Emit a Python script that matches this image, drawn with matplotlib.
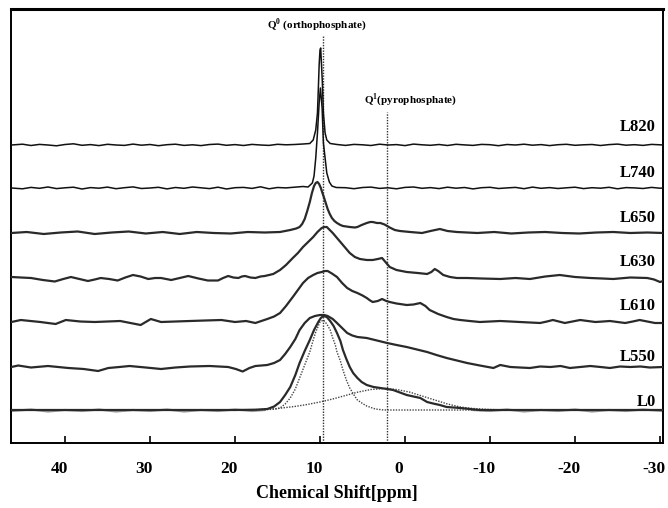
import matplotlib
matplotlib.use("Agg")
import matplotlib.pyplot as plt
import matplotlib.transforms as mtransforms
import numpy as np

plt.rcParams["font.family"] = ["Liberation Serif", "DejaVu Serif"]
plt.rcParams["font.weight"] = "bold"
plt.rcParams["axes.unicode_minus"] = False
plt.rcParams["mathtext.fontset"] = "custom"
plt.rcParams["mathtext.rm"] = "Liberation Serif:bold"
plt.rcParams["mathtext.bf"] = "Liberation Serif:bold"

# 31P MAS NMR spectra, chemical shift (ppm) vs. intensity above each baseline
ppm_820 = [46.3, 45, 44, 43, 42, 41, 40, 39, 38, 37, 36, 35, 34, 33, 32, 31, 30, 29, 28, 27,
           26, 25, 24, 23, 22, 21, 20, 19, 18, 17, 16, 15, 14, 13, 12,
           11.2, 10.8, 10.5, 10.3, 10.2, 10.1, 10.0, 9.92, 9.82, 9.72, 9.6, 9.4, 9.2, 8.8,
           8, 7, 6, 5, 4, 3, 2, 1, 0, -1, -2, -3, -4, -5, -6, -7, -8, -9, -10, -11, -12,
           -13, -14, -15, -16, -17, -18, -19, -20, -21, -22, -23, -24, -25, -26, -27, -28,
           -29, -30, -30.35]
int_820 = [0, 0.8, -0.5, 0.6, 0, -0.8, 0.5, 1.2, -0.3, 0.4, -0.6, 0.7, 0, -0.4, 0.9, -0.2,
           0.5, -0.7, 0.3, 0.8, -0.4, 0.2, -0.6, 0.5, 0.9, -0.3, 0.4, -0.5, 0.6, 0, -0.4,
           0.7, 0.2, 0.5, 1.0,
           1.5, 5, 15, 32, 55, 80, 95, 97, 80, 62, 32, 12, 5, 1.5,
           0.5, -0.4, 0.6, 0.2, -0.5, 0.8, 0, 0.4, -0.6, 0.9, 0.2, -0.3, 0.5, -0.5, 0.7,
           0.1, -0.4, 0.6, 0.3, -0.7, 0.5, 0, 0.8, -0.2, 0.4, -0.6, 0.3, 0.7, -0.3, 0.2,
           0.5, -0.5, 0.4, 0.9, -0.2, 0.3, -0.4, 0.6, 0.2, 0]

ppm_740 = [46.3, 45, 44, 43, 42, 41, 40, 39, 38, 37, 36, 35, 34, 33, 32, 31, 30, 29, 28, 27,
           26, 25, 24, 23, 22, 21, 20, 19, 18, 17, 16, 15, 14, 13, 12,
           11.4, 10.9, 10.7, 10.5, 10.3, 10.1, 9.95, 9.75, 9.6, 9.4, 9.2, 8.9, 8.6, 8.1,
           7, 6, 5, 4, 3, 2, 1, 0, -1, -2, -3, -4, -5, -6, -7, -8, -9, -10, -11, -12,
           -13, -14, -15, -16, -17, -18, -19, -20, -21, -22, -23, -24, -25, -26, -27, -28,
           -29, -30, -30.35]
int_740 = [0, -0.8, 0.6, -0.3, 1.0, -0.6, 0.2, 0.8, -1.0, 0.4, -0.2, 0.9, -0.7, 0.3, 1.1,
           -0.5, 0, 0.7, -0.9, 0.5, -0.3, 1.0, 0.2, -0.6, 0.8, -1.0, 0.3, 0.6, -0.4, 1.2,
           -0.8, 0.5, 0.1, 0.8, 1.5,
           1, 5, 12, 30, 55, 85, 100, 80, 45, 30, 15, 6, 2, 0.5,
           0.3, -0.7, 0.5, 0.9, -0.4, 0.2, -0.8, 0.6, 1.0, -0.3, 0.4, -0.6, 0.8, -0.2, 0.5,
           -0.9, 0.3, 0.7, -0.5, 0.1, 0.6, -0.7, 0.9, -0.3, 0.4, -0.5, 0.2, 0.8, -0.6, 0.3,
           -0.2, 0.7, -0.8, 0.4, 0.1, -0.5, 0.6, -0.2, 0]

ppm_650 = [46.3, 44.5, 42.5, 40.5, 38.5, 36.5, 34.5, 32.5, 30.5, 28.5, 26.5, 24.5, 22.5,
           20.5, 18.5, 16.5,
           14.7, 13.5, 12.8, 12.4, 12.1, 11.8, 11.5, 11.2, 10.95, 10.7,
           10.5, 10.3, 10.1, 9.9, 9.75, 9.55, 9.4, 9.1, 8.85, 8.6,
           8.3, 8.0, 7.6, 7.3, 6.5, 5.9, 5.6, 5.1, 4.5, 4.1,
           3.8, 3.3, 2.9, 2.4, 2.1, 1.8, 1.2, 0.6, -0.6, -2.0,
           -3.0, -4.1, -5.0, -6.1, -8.5, -10.5, -12.5, -14.5, -16.5, -18.5,
           -20.5, -22.5, -24.5, -26.5, -28.5, -30.35]
int_650 = [0, 1, -1, 0.5, 1.5, -1, 0.5, 1.5, -0.5, 1, -1, 1, 0, -0.5, 1, 0.5,
           1, 3, 4.5, 6, 9, 14, 22, 31, 40, 47,
           50, 51, 49, 45, 41, 36, 32, 24, 19, 15,
           12, 10, 8, 7, 6, 5.5, 6, 8, 10, 11,
           11, 10, 10, 8.5, 7, 5.5, 3, 2, 1, 0,
           2, 4, 2, 1, 0, 1, -0.5, 0.5, 1, 0,
           -0.5, 0.5, 1, 0, 0.5, 0]

ppm_630 = [46.3, 45.2, 44.0, 42.6, 41.2, 40.2, 39.3, 38.3, 37.3, 36.5,
           35.8, 34.8, 33.8, 32.9, 32.0, 31.1, 30.2, 29.4, 28.7, 28.1,
           27.5, 26.5, 25.5, 24.3, 23.2, 22.0, 21.4, 20.8, 20.2, 19.6,
           19.2, 18.8, 18.2, 17.6, 17.0, 16.5, 15.5, 14.7, 14.0, 13.2,
           12.6, 12.0, 11.4, 10.8, 10.3, 9.8, 9.5, 9.2, 8.85, 8.5,
           8.0, 7.6, 7.0, 6.5, 5.9, 5.3, 4.5, 3.8, 3.2, 2.7,
           2.3, 1.8, 1.0, -0.2, -1.5, -2.6, -3.1, -3.5, -3.9, -4.5,
           -5.3, -6.1, -7.3, -9.0, -11.2, -13.0, -14.7, -16.5, -18.2, -20.0,
           -21.8, -23.2, -24.5, -26.5, -28.5, -29.3, -30.0, -30.35]
int_630 = [1, 0.5, 0, -2, -3.5, -1, 1, -1, -3, -1.5,
           0, -1, -2.5, 0.5, 3, 1.5, -1, 0, 0, -1,
           -2, 0, 2, -0.5, -2.5, -2.5, 0, 2, 0.5, 0,
           1.5, 2, 0.5, 0, 1.5, 2, 4, 8, 13, 20,
           25, 31, 36, 41, 46, 50, 51, 51, 48, 45,
           40, 36, 30, 25, 21, 19, 18, 18, 19, 20,
           16, 11, 8, 6, 5, 4, 6, 9, 7, 3,
           1, 0, 0, -0.5, -1, 0, -1, 1.5, 3, 1,
           0, -0.5, -1, 0.5, 0, -1.5, -4, -3]

ppm_610 = [46.3, 45.2, 42.9, 41.1, 39.9, 38.2, 36.5, 35.0, 33.5, 32.3,
           31.1, 29.9, 28.7, 27.0, 25.3, 23.5, 21.6, 20.0, 18.7, 17.6,
           16.9, 16.2, 15.4, 14.7, 14.0, 13.2, 12.6, 12.0, 11.4, 10.8,
           10.3, 9.8, 9.4, 9.1, 8.6, 8.0, 7.4, 6.8, 6.2, 5.6,
           5.0, 4.5, 4.1, 3.8, 3.2, 2.7, 2.2, 1.8, 1.0, -0.2,
           -1.0, -1.8, -2.4, -2.9, -3.9, -4.9, -5.7, -6.5, -7.6, -8.8,
           -10.0, -11.2, -12.4, -13.5, -14.7, -15.9, -16.7, -17.4, -18.1, -18.8,
           -19.7, -20.6, -21.5, -22.4, -23.3, -24.1, -25.0, -25.9, -26.8, -27.6,
           -28.5, -29.4, -30.35]
int_610 = [0, 2, 0, -2, 2, 0.5, 0, 0.5, 1, -1,
           -3, 3, 0, 0.5, 1, 1.5, 2, 0, 1, -1,
           1, 3, 5.5, 9, 16, 25, 32, 39, 44, 47,
           49, 50, 51, 51, 48.5, 45, 39, 34, 31, 29,
           26.5, 24, 21.5, 20, 21, 23, 21, 20, 18.5, 17,
           17.5, 19, 16, 12, 8, 5, 3, 2, 1, 0,
           0.5, 1, 0.5, 0, -0.5, -1, 0.5, 2, 0.5, -1,
           0.5, 2, 1, 0, 0.5, 1, 0, -1, 0.5, 2,
           0.5, -1, -1]

ppm_550 = [46.3, 45.5, 44.0, 42.0, 39.6, 37.8, 36.1, 34.9, 33.6, 32.4,
           30.5, 28.7, 27.0, 25.3, 23.0, 20.8, 19.9, 19.1, 18.3, 17.6,
           16.9, 16.2, 15.4, 14.7, 14.1, 13.5, 12.9, 12.4, 11.8, 11.2,
           10.6, 10.0, 9.5, 9.1, 8.5, 8.0, 7.4, 6.8, 6.2, 5.6,
           4.5, 3.3, 2.1, 1.0, -0.2, -1.4, -2.6, -3.7, -4.9, -6.1,
           -7.3, -8.8, -10.4, -11.2, -12.4, -13.5, -14.7, -15.9, -17.1, -18.3,
           -19.4, -20.6, -21.8, -23.0, -24.1, -25.3, -26.5, -27.7, -28.8, -30.35]
int_550 = [0, 1.5, -0.5, 1, -1, -2, -4, -1, 0, 1,
           -0.5, -2, -0.5, 0.5, 1, 0, -2, -4.5, -1, 1,
           1.5, 2, 4, 7, 13, 20, 28, 37, 44, 49,
           51, 52, 52, 51, 48, 44, 39, 34, 31.5, 30,
           29, 26.5, 24, 22, 20, 17.5, 15, 12, 9, 6.5,
           4, 1.5, -1, 2, 0, -0.5, -1, 0.5, 0, 1,
           -1, 0, 1, 0, -1, 0.5, 0, 0.5, -0.5, 0]

ppm_0 = [46.3, 40, 35, 30, 25, 20, 17.5, 16.2, 15.4, 14.7,
         14.1, 13.5, 12.9, 12.4, 11.8, 11.2, 10.7, 10.2, 9.9, 9.6,
         9.2, 8.8, 8.4, 8.0, 7.6, 7.3, 6.9, 6.5, 6.1, 5.6,
         5.1, 4.5, 3.7, 2.9, 2.1, 1.4, 0.6, -0.2, -1.0, -1.8,
         -2.6, -3.3, -4.1, -4.9, -5.7, -6.5, -7.6, -8.8, -15, -20,
         -25, -30.35]
int_0 = [0, 0, 0, 0, 0, 0, 0.3, 1, 3.5, 8,
         15, 23, 35, 47, 59, 70, 80, 88, 92, 94,
         93, 89, 84, 77, 69, 60, 51, 43, 37, 32,
         28, 25, 23, 22, 21, 20, 17.5, 15, 13.5, 12,
         8, 6.5, 5, 3, 2.5, 2, 1, 0, 0, 0,
         0, 0]

# raw L0 trace showing through under the fit on the flat parts (grey)
ppm_0_raw_left = [46.3, 44, 42, 40, 38, 36, 34, 32, 30, 28, 26, 24, 22, 20, 18, 16.5]
int_0_raw_left = [-1, 0.5, -1.5, 0, -1, 0.5, -1.5, 0, -1, 0.5, -1.5, 0, -1, 0.5, -1, 0]
ppm_0_raw_right = [-8, -10, -12, -14, -16, -18, -20, -22, -24, -26, -28, -30.35]
int_0_raw_right = [0, -1, 0.5, -1.5, 0, -1, 0.5, -1.5, 0, -1, 0.5, -1]

# deconvoluted components of L0 (Q0 and Q1)
ppm_fit_q0 = [46.3, 20, 16, 15.2, 14.7, 14.1, 13.5, 12.9, 12.4, 11.8,
              11.2, 10.8, 10.5, 10.2, 10.0, 9.6, 9.2, 8.8, 8.5, 8.2,
              8.0, 7.6, 7.3, 6.9, 6.5, 6.0, 5.6, 5.0, 4.5, 3.5,
              2.5, -10, -30.35]
int_fit_q0 = [0, 0, 0.5, 1, 2, 6, 12, 21, 32, 45,
              58, 70, 78, 84, 88, 90, 86, 80, 72, 65,
              58, 49, 40, 30, 22, 15, 10, 6.5, 4, 1,
              0, 0, 0]
ppm_fit_q1 = [46.3, 20, 17, 15, 13, 11.5, 10, 8.5, 7, 5.5, 4, 2.4, 1, -0.5, -2, -3.5, -5,
              -6.5, -8, -10, -12, -30.35]
int_fit_q1 = [0, 0, 0.5, 1.5, 3.5, 5.5, 8, 11, 14.5, 18, 20.5, 21.5, 20.5, 18, 14, 10, 6,
              3, 1.5, 0.5, 0, 0]

labels = ["L820", "L740", "L650", "L630", "L610", "L550", "L0"]
offsets = [298, 255, 210, 165, 121, 76, 33]
label_y = [316, 270, 225, 181, 137, 86, 41]
q0_pos, q1_pos = 9.6, 2.1

spectra = [(ppm_820, int_820), (ppm_740, int_740), (ppm_650, int_650),
           (ppm_630, int_630), (ppm_610, int_610), (ppm_550, int_550), (ppm_0, int_0)]

fig = plt.figure(figsize=(6.68, 5.08), dpi=100)
ax = fig.add_axes([11 / 668, 65 / 508, 652 / 668, 434 / 508])

for x, y in [(ppm_0_raw_left, int_0_raw_left), (ppm_0_raw_right, int_0_raw_right)]:
    ax.plot(x, np.array(y) + offsets[-1], color="#9a9a9a", lw=1.6, zorder=1)

for i, (x, y) in enumerate(spectra):
    noisy = i < 2
    ax.plot(x, np.array(y) + offsets[i], color="#111111" if noisy else "#2a2a2a",
            lw=1.1 if noisy else 1.6, solid_joinstyle="round", solid_capstyle="round",
            zorder=3)
    ax.text(-29.5, label_y[i], labels[i], ha="right", va="center",
            fontsize=12, fontweight="bold")

# fit components of L0
for x, y in [(ppm_fit_q0, int_fit_q0), (ppm_fit_q1, int_fit_q1)]:
    ax.plot(x, np.array(y) + offsets[-1], color="#444444", lw=1.0, ls=(0, (1, 1)),
            zorder=2)

# reference lines for Q0 and Q1
ax.vlines(q0_pos, 0, 408, color="#333333", lw=1.0, ls=(0, (1, 1)), zorder=2)
ax.vlines(q1_pos, 0, 331, color="#333333", lw=1.0, ls=(0, (1, 1)), zorder=2)
ax.text(10.35, 418, r"Q$^{0}$ (orthophosphate)", ha="center", va="center",
        fontsize=8, fontweight="bold")
ax.text(-0.6, 343, r"Q$^{1}$(pyrophosphate)", ha="center", va="center",
        fontsize=8, fontweight="bold")

ax.set_xlim(46.35, -30.35)
ax.set_ylim(0, 434)
ax.set_xticks([40, 30, 20, 10, 0, -10, -20, -30])
ax.set_yticks([])
ax.tick_params(axis="x", direction="in", length=5, width=1.2, pad=13, labelsize=12.5)
shift = mtransforms.ScaledTranslation(-6 / 100, 0, fig.dpi_scale_trans)
for t in ax.get_xticklabels():
    t.set_fontweight("bold")
    t.set_transform(t.get_transform() + shift)
ax.set_xlabel("Chemical Shift[ppm]", fontsize=13, fontweight="bold", labelpad=6)

for side in ["left", "right", "bottom"]:
    ax.spines[side].set_linewidth(1.4)
ax.spines["top"].set_linewidth(2.2)

fig.savefig("out.png", dpi=100)
